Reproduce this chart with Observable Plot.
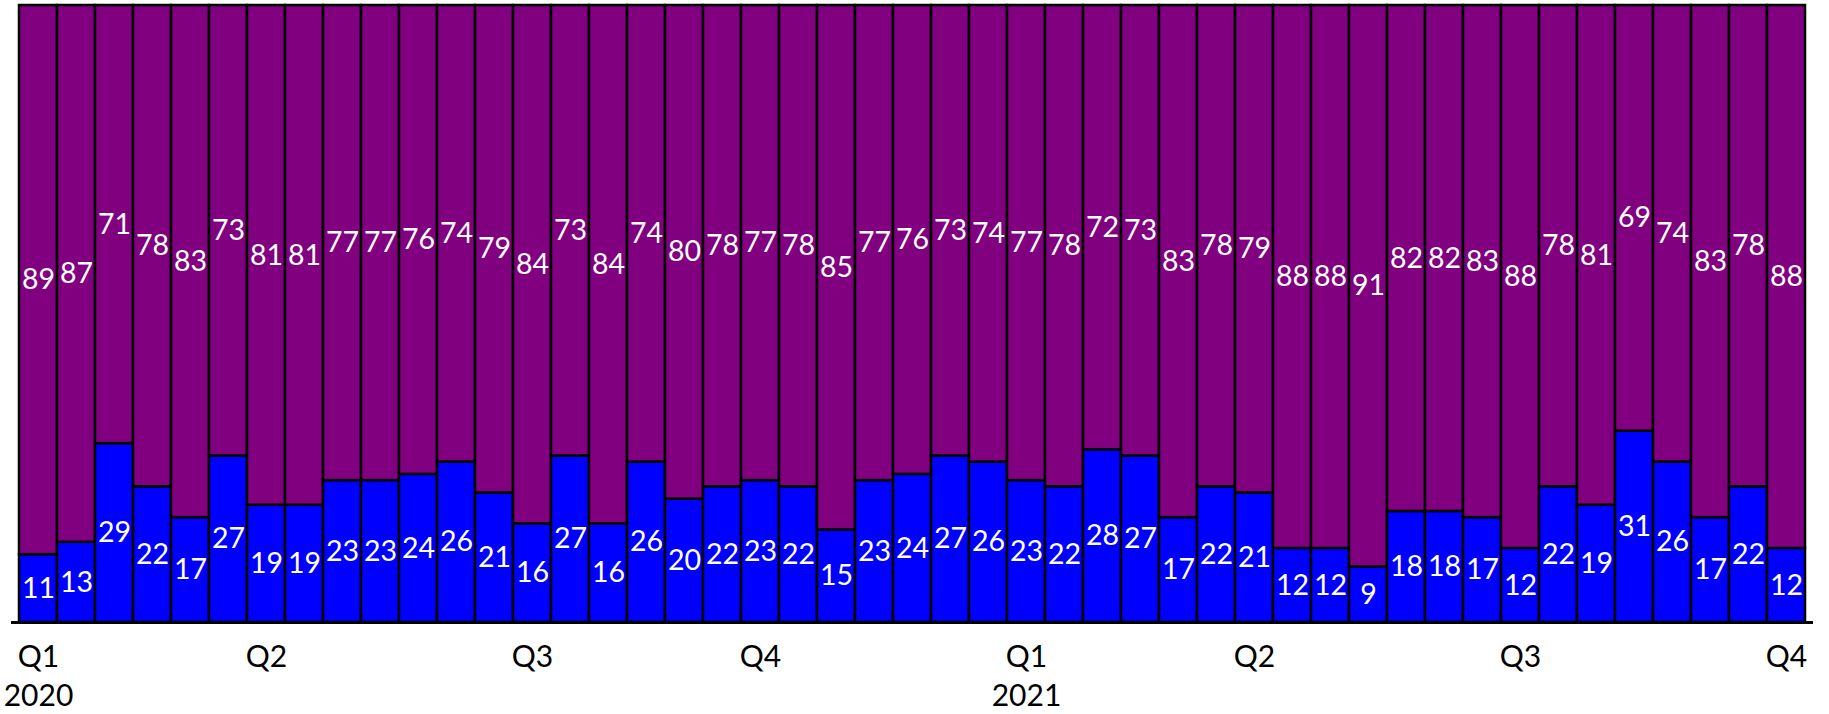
<!DOCTYPE html>
<html>
<head>
<meta charset="utf-8">
<script src="https://cdn.jsdelivr.net/npm/d3@7"></script>
<script src="https://cdn.jsdelivr.net/npm/@observablehq/plot@0.6"></script>
<style>
  html, body { margin: 0; padding: 0; background: #fff; }
  #chart svg { display: block; }
</style>
</head>
<body>
<div id="chart"></div>
<script>
const blueValues = [11,13,29,22,17,27,19,19,23,23,24,26,21,16,27,16,26,20,22,23,22,15,23,24,27,26,23,22,28,27,17,22,21,12,12,9,18,18,17,12,22,19,31,26,17,22,12];
const purpleValues = [89,87,71,78,83,73,81,81,77,77,76,74,79,84,73,84,74,80,78,77,78,85,77,76,73,74,77,78,72,73,83,78,79,88,88,91,82,82,83,88,78,81,69,74,83,78,88];
const periods = blueValues.map((_, i) => i);
const tickPositions = [0, 6, 13, 19, 26, 32, 39, 46];
const tickLabels = ["Q1\n2020", "Q2", "Q3", "Q4", "Q1\n2021", "Q2", "Q3", "Q4"];
const seriesNames = ["blue", "purple"];
const seriesColors = ["#0000FF", "#800080"];

const rows = [];
periods.forEach((p, i) => {
  rows.push({period: p, series: "blue", value: blueValues[i]});
  rows.push({period: p, series: "purple", value: purpleValues[i]});
});

const fontFamily = "Lato, 'Open Sans', sans-serif";

const chart = Plot.plot({
  width: 1829,
  height: 714,
  marginLeft: 11,
  marginRight: 16,
  marginTop: 5,
  marginBottom: 92,
  style: {fontFamily, background: "#fff"},
  x: {type: "band", domain: periods, padding: 0, axis: null},
  y: {domain: [0, 100], axis: null},
  color: {domain: seriesNames, range: seriesColors},
  marks: [
    Plot.barY(rows, {x: "period", y: "value", fill: "series", z: "series", order: seriesNames, stroke: "black", strokeWidth: 2.5}),
    Plot.text(rows, Plot.stackY({x: "period", y: "value", z: "series", order: seriesNames, text: d => String(d.value), fill: "white", fontSize: 28.5})),
    Plot.ruleY([0], {stroke: "black", strokeWidth: 3}),
    Plot.axisX({
      ticks: tickPositions,
      tickFormat: d => tickLabels[tickPositions.indexOf(d)],
      tickSize: 0,
      tickPadding: 17,
      fontSize: 30,
      lineHeight: 1.3,
      fill: "black",
      label: null
    })
  ]
});
document.getElementById("chart").appendChild(chart);
</script>
</body>
</html>
